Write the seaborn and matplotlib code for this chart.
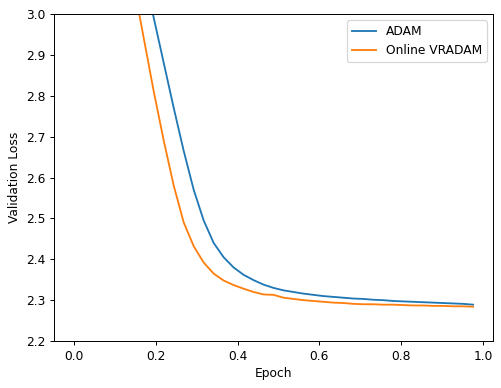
import numpy as np
import pandas as pd
import matplotlib
matplotlib.use("Agg")
import matplotlib.pyplot as plt
import seaborn as sns

# epochs: 41 evaluations over the first epoch
epoch = [i / 41 for i in range(41)]

adam = [4.60, 4.30, 4.02, 3.80, 3.60, 3.44, 3.28, 3.10, 2.99, 2.88,
        2.77, 2.665, 2.57, 2.495, 2.44, 2.405, 2.380, 2.362, 2.349, 2.338,
        2.330, 2.324, 2.320, 2.316, 2.313, 2.310, 2.308, 2.306, 2.304, 2.303,
        2.301, 2.300, 2.298, 2.297, 2.296, 2.295, 2.294, 2.293, 2.292, 2.291,
        2.289]

vradam = [4.20, 3.95, 3.72, 3.54, 3.38, 3.22, 3.07, 2.94, 2.81, 2.69,
          2.58, 2.49, 2.432, 2.392, 2.365, 2.348, 2.337, 2.328, 2.320, 2.314,
          2.313, 2.306, 2.303, 2.300, 2.298, 2.296, 2.294, 2.293, 2.291, 2.290,
          2.290, 2.289, 2.289, 2.288, 2.287, 2.287, 2.286, 2.286, 2.285, 2.285,
          2.284]

df = pd.DataFrame({
    "Epoch": epoch * 2,
    "Validation Loss": adam + vradam,
    "Optimizer": ["ADAM"] * len(adam) + ["Online VRADAM"] * len(vradam),
})

dpi = 88
fig = plt.figure(figsize=(502 / dpi, 388 / dpi), dpi=dpi)
ax = fig.add_axes([0.1076, 0.121, 0.8745, 0.843])
sns.lineplot(data=df, x="Epoch", y="Validation Loss", hue="Optimizer",
             palette=["#1f77b4", "#ff7f0e"], linewidth=1.5, ax=ax)
ax.set_ylim(2.2, 3.0)
ax.legend(loc="upper right")
fig.savefig("out.png", dpi=dpi)
